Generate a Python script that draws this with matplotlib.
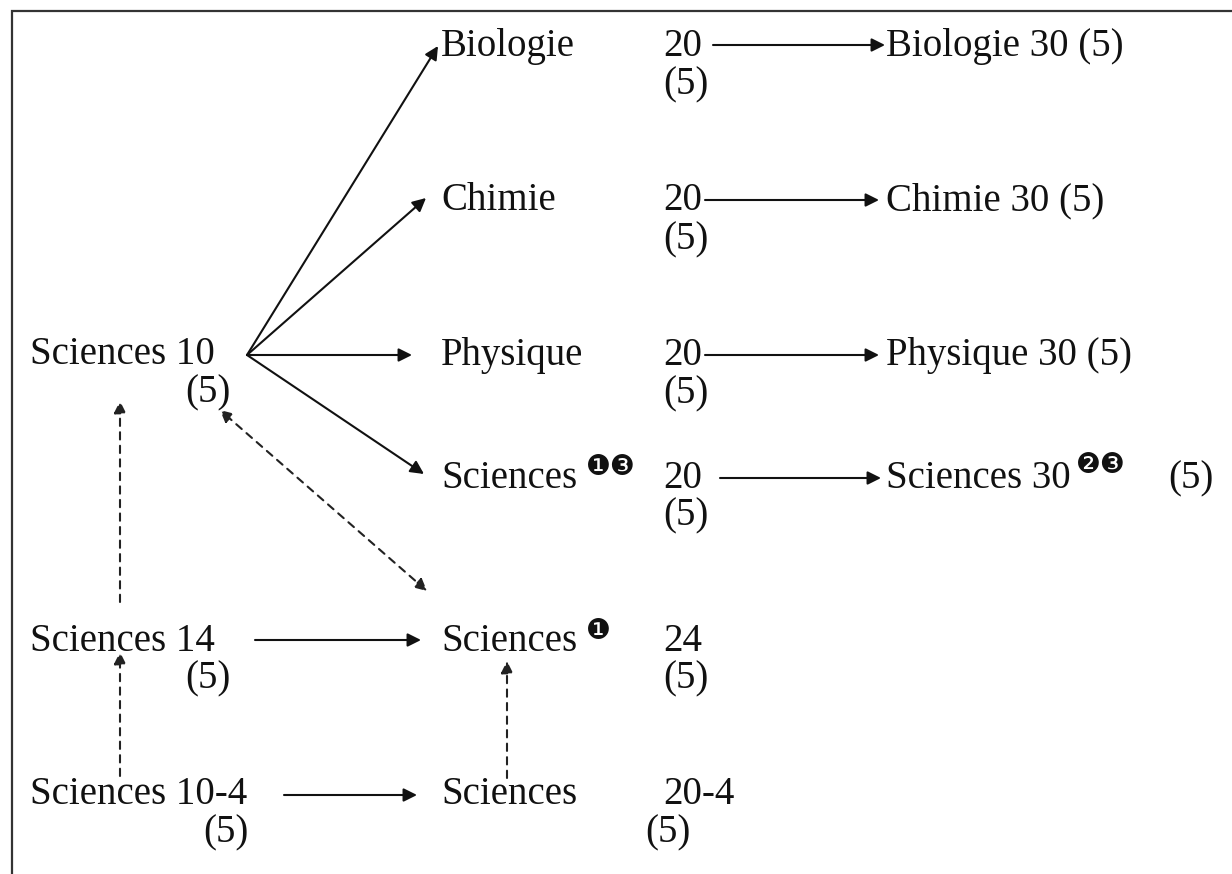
import matplotlib
matplotlib.use("Agg")
import matplotlib.pyplot as plt
from matplotlib.patches import FancyArrowPatch

# course labels (text, x, baseline y) in picture pixels
left_labels = ["Sciences 10", "Sciences 14", "Sciences 10-4"]
left_x = [30, 30, 30]
left_y = [364, 651, 804]
left_credit_x = [185, 185, 203]
left_credit_y = [402, 688, 842]

mid_labels = ["Biologie", "Chimie", "Physique", "Sciences", "Sciences", "Sciences"]
mid_numbers = ["20", "20", "20", "20", "24", "20-4"]
mid_y = [56, 210, 365, 488, 651, 804]
mid_credit_x = [663, 663, 663, 663, 663, 645]
mid_credit_y = [94, 249, 403, 525, 688, 842]

right_labels = ["Biologie 30 (5)", "Chimie 30 (5)", "Physique 30 (5)", "Sciences 30"]
right_y = [56, 210, 365, 488]

credit = "(5)"

# footnote markers: (glyphs, x, centre y)
notes = [("\u2776\u2778", 586, 467),
         ("\u2777\u2778", 1076, 465),
         ("\u2776", 586, 631)]

# arrows: start -> end
solid_edges = [
    ((247, 355), (438, 46)),
    ((247, 355), (426, 198)),
    ((247, 355), (412, 355)),
    ((247, 355), (424, 474)),
    ((713, 45), (885, 45)),
    ((705, 200), (879, 200)),
    ((705, 355), (879, 355)),
    ((720, 478), (881, 478)),
    ((255, 640), (421, 640)),
    ((284, 795), (417, 795)),
]
dashed_edges = [
    ((120, 602), (120, 401), "-|>"),
    ((120, 776), (120, 652), "-|>"),
    ((507, 778), (507, 661), "-|>"),
    ((427, 591), (220, 410), "<|-|>"),
]

W, H = 1232, 874
fig = plt.figure(figsize=(W / 100, H / 100), dpi=100)
ax = fig.add_axes([0, 0, 1, 1])
ax.set_xlim(0, W)
ax.set_ylim(H, 0)
ax.axis("off")

font = dict(family="Liberation Serif", fontsize=28, color="#111111", va="baseline")

# frame (only top and left are visible in the picture)
ax.plot([12, 12, W], [H, 11, 11], color="#333333", lw=1.6, solid_joinstyle="miter")

for lab, x, y in zip(left_labels, left_x, left_y):
    ax.text(x, y, lab, **font)
for x, y in zip(left_credit_x, left_credit_y):
    ax.text(x, y, credit, **font)

for lab, num, y in zip(mid_labels, mid_numbers, mid_y):
    ax.text(441, y, lab, **font)
    ax.text(663, y, num, **font)
for x, y in zip(mid_credit_x, mid_credit_y):
    ax.text(x, y, credit, **font)

for lab, y in zip(right_labels, right_y):
    ax.text(886, y, lab, **font)
ax.text(1168, right_y[3], credit, **font)

for g, x, y in notes:
    ax.text(x, y, g, family="DejaVu Sans", fontsize=20, color="#111111",
            ha="left", va="center")

for (x0, y0), (x1, y1) in solid_edges:
    ax.add_patch(FancyArrowPatch((x0, y0), (x1, y1), arrowstyle="-|>",
                                 mutation_scale=20, lw=1.5, color="#111111",
                                 shrinkA=0, shrinkB=0))

for (x0, y0), (x1, y1), style in dashed_edges:
    ax.add_patch(FancyArrowPatch((x0, y0), (x1, y1), arrowstyle=style,
                                 mutation_scale=18, lw=1.5, color="#222222",
                                 linestyle=(0, (3.5, 3)), shrinkA=0, shrinkB=0))

fig.savefig("out.png", dpi=100, facecolor="white")
